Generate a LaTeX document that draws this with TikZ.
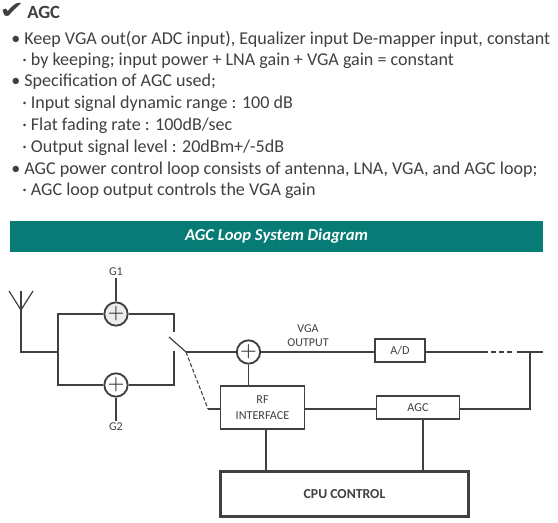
\documentclass[tikz,border=0pt]{standalone}
\usepackage{fontspec}
\usepackage{amsmath}
\setmainfont{Carlito}
\newfontfamily\symfont{DejaVu Sans}
\definecolor{ink}{HTML}{404040}
\definecolor{bannerteal}{HTML}{077B76}
\tikzset{
  wire/.style={draw=ink, line width=1.2pt},
  sumnode/.style={circle, draw=ink, line width=1.4pt, fill=white, text=ink, minimum size=17.5pt, inner sep=0pt, font=\fontsize{15}{15}\selectfont\boldmath},
  boxnode/.style={rectangle, draw=ink, line width=1.2pt, fill=white, inner sep=0pt, align=center, text=ink, font=\fontsize{9.1}{12}\selectfont},
  smalltext/.style={text=ink, inner sep=1pt, align=center, font=\fontsize{9}{10.5}\selectfont},
  bodyline/.style={anchor=west, text=ink, inner sep=0pt, font=\fontsize{13.55}{15}\selectfont},
}
\begin{document}
\begin{tikzpicture}[x=0.75pt, y=-0.75pt]
\useasboundingbox (0,0) rectangle (558,523);

\node[anchor=center, text=ink, inner sep=0pt, font=\symfont\fontsize{18}{18}\selectfont] (tick) at (12,10.5) {\scalebox{1.25}[1]{✔}};
\node[anchor=west, text=ink, inner sep=0pt, font=\bfseries\fontsize{14}{16}\selectfont] (title) at (27,12) {AGC};
\node[bodyline] (l1) at (11,39) {• Keep VGA out(or ADC input), Equalizer input De-mapper input, constant};
\node[bodyline] (l2) at (22,61) {· by keeping; input power + LNA gain + VGA gain = constant};
\node[bodyline] (l3) at (11,82) {• Specification of AGC used;};
\node[bodyline] (l4) at (22,104) {· Input signal dynamic range : 100 dB};
\node[bodyline] (l5) at (22,126) {· Flat fading rate : 100dB/sec};
\node[bodyline] (l6) at (22,148) {· Output signal level : 20dBm+/-5dB};
\node[bodyline] (l7) at (11,170) {• AGC power control loop consists of antenna, LNA, VGA, and AGC loop;};
\node[bodyline] (l8) at (22,191) {· AGC loop output controls the VGA gain};

\node[fill=bannerteal, text=white, inner sep=0pt, minimum width=399.75pt, minimum height=23.25pt, font=\bfseries\itshape\fontsize{12.5}{14}\selectfont] (banner) at (276.5,236.5) {AGC Loop System Diagram};

\node[smalltext] (g1) at (116,272) {G1};
\node[smalltext] (g2) at (116,427) {G2};
\node[sumnode, fill=black!7] (g1sum) at (116,314) {$+$};
\node[sumnode] (g2sum) at (116,385) {$+$};
\node[sumnode] (vgasum) at (248.5,352) {$+$};
\node[smalltext] (vga) at (308,336) {VGA\\OUTPUT};

\node[boxnode, minimum width=63pt, minimum height=32pt] (rf) at (262.5,407.5) {RF\\INTERFACE};
\node[boxnode, minimum width=37.5pt, minimum height=17pt] (ad) at (400,350.5) {A/D};
\node[boxnode, minimum width=62.5pt, minimum height=17pt] (agc) at (418,407.5) {AGC};
\node[boxnode, line width=2.2pt, minimum width=186pt, minimum height=34pt, font=\bfseries\fontsize{10.3}{12}\selectfont] (cpu) at (344.5,494) {CPU CONTROL};

\coordinate (anttip) at (21,291);
\coordinate (antl) at (9,291);
\coordinate (antr) at (33,291);
\coordinate (antbase) at (21,310);
\coordinate (antfoot) at (21,352);
\coordinate (split) at (58,352);
\coordinate (g1left) at (58,314);
\coordinate (g2left) at (58,385);
\coordinate (g1right) at (174,314);
\coordinate (g2right) at (174,385);
\coordinate (g1end) at (174,332);
\coordinate (g2end) at (174,351);
\coordinate (swblade) at (169,337);
\coordinate (swpivot) at (186,352);
\coordinate (swlink) at (208,409);
\coordinate (dashin) at (483,352);
\coordinate (dashout) at (515,352);
\coordinate (tap) at (530,352);
\coordinate (lineend) at (543,352);
\coordinate (tapdown) at (530,409);
\coordinate (rfdown) at (266,429);
\coordinate (cpurf) at (266,471);
\coordinate (agcdown) at (423,419);
\coordinate (cpuagc) at (423,471);

\draw[wire, line width=0.9pt] (antl) -- (antbase) -- (antr);
\draw[wire] (anttip) -- (antbase) -- (antfoot) -- (split);
\draw[wire] (g1sum) -- (g1left) -- (g2left) -- (g2sum);
\draw[wire] (g1sum) -- (g1right) -- (g1end);
\draw[wire] (g2sum) -- (g2right) -- (g2end);
\draw[wire] (g1) -- (g1sum);
\draw[wire] (g2) -- (g2sum);
\draw[wire, line width=0.9pt] (swblade) -- (swpivot);
\draw[wire] (swpivot) -- (vgasum);
\draw[wire, line width=0.8pt, dash pattern=on 3pt off 1.5pt] (swpivot) -- (swlink);
\draw[wire] (swlink) -- (rf.west |- swlink);
\draw[wire] (vgasum) -- (vgasum |- rf.north);
\draw[wire] (vgasum) -- (ad.west |- vgasum);
\draw[wire] (ad.east |- tap) -- (dashin);
\draw[wire, dash pattern=on 4pt off 2pt] (dashin) -- (dashout);
\draw[wire] (dashout) ++(2,0) -- (lineend);
\draw[wire] (tap) -- (tapdown) -- (agc.east |- tapdown);
\draw[wire] (rf.east |- tapdown) -- (agc.west |- tapdown);
\draw[wire] (rfdown) -- (cpurf);
\draw[wire] (agcdown) -- (cpuagc);
\end{tikzpicture}
\end{document}
